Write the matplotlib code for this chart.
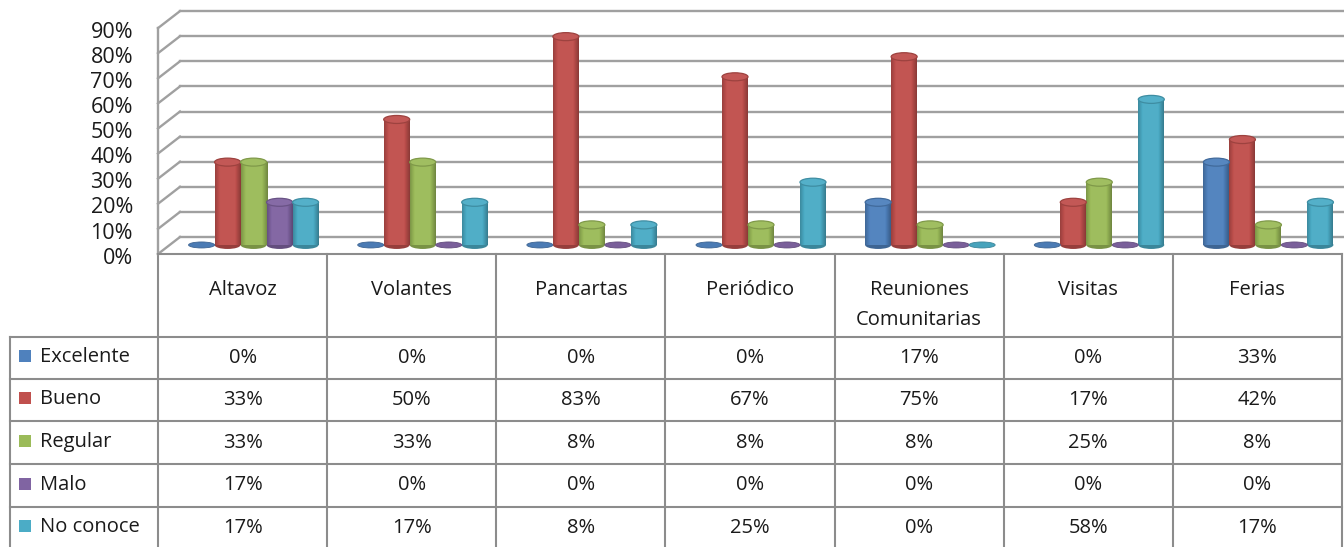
import numpy as np
import matplotlib.pyplot as plt
import matplotlib.transforms as mtransforms
from matplotlib.patches import Ellipse, Rectangle
from matplotlib.colors import to_rgb

plt.rcParams['font.family'] = ['Open Sans', 'DejaVu Sans']

# datos (porcentajes por medio de difusión)
categorias = ['Altavoz', 'Volantes', 'Pancartas', 'Periódico',
              'Reuniones\nComunitarias', 'Visitas', 'Ferias']
series = ['Excelente', 'Bueno', 'Regular', 'Malo', 'No conoce']
excelente = [0, 0, 0, 0, 17, 0, 33]
bueno = [33, 50, 83, 67, 75, 17, 42]
regular = [33, 33, 8, 8, 8, 25, 8]
malo = [17, 0, 0, 0, 0, 0, 0]
no_conoce = [17, 17, 8, 25, 0, 58, 17]
colores = ['#4F81BD', '#C0504D', '#9BBB59', '#8064A2', '#4BACC6']
ticks_y = [0, 10, 20, 30, 40, 50, 60, 70, 80, 90]

valores = [excelente, bueno, regular, malo, no_conoce]

W, H = 1344, 547
IZQ, DER = 158, 1342       # borde de la tabla / del grafico (px)
PISO = 254                 # linea del 0% (px desde arriba)
PX = 2.51                  # px por cada 1%
COL = (DER - IZQ) / 7.0
TEXTO = '#1a1a1a'
GRIS = '#a0a0a0'

fig = plt.figure(figsize=(W / 100, H / 100), dpi=100)

# ---- tabla de datos (coordenadas en pixeles) ----
tab = fig.add_axes([0, 0, 1, 1])
tab.set_xlim(0, W)
tab.set_ylim(H, 0)
tab.axis('off')

filas = [337, 379, 421, 464, 507, 549]
for k in range(8):
    x = IZQ + COL * k
    tab.plot([x, x], [PISO, H], color='#8c8c8c', lw=1.5)
tab.plot([10, 10], [filas[0], H], color='#8c8c8c', lw=1.5)
for y in filas[:-1]:
    tab.plot([10, DER], [y, y], color='#8c8c8c', lw=1.5)

for i, cat in enumerate(categorias):
    cx = IZQ + COL * (i + 0.5)
    for j, linea in enumerate(cat.split('\n')):
        tab.text(cx, 290 + 30 * j, linea, ha='center', va='center',
                 fontsize=14.5, color=TEXTO)

for s, (nombre, vals, c) in enumerate(zip(series, valores, colores)):
    cy = (filas[s] + filas[s + 1]) / 2.0
    tab.add_patch(Rectangle((19, cy - 8), 12, 12, facecolor=c, edgecolor='none'))
    tab.text(40, cy - 1, nombre, ha='left', va='center', fontsize=14.5, color=TEXTO)
    for i, v in enumerate(vals):
        tab.text(IZQ + COL * (i + 0.5), cy, f'{v}%', ha='center', va='center',
                 fontsize=14.5, color=TEXTO)

# ---- grafico de columnas con efecto 3D ----
ax = fig.add_axes([IZQ / W, (H - PISO) / H, (DER - IZQ) / W, PISO / H])
ax.patch.set_alpha(0)
for sp in ax.spines.values():
    sp.set_visible(False)

dx = 22 / COL
dy = 17 / PX
for v in ticks_y:
    ax.plot([dx, 7 + dx + 1], [v + dy, v + dy], color=GRIS, lw=1.7, clip_on=False, zorder=1)
    ax.plot([0, dx], [v, v + dy], color=GRIS, lw=1.7, clip_on=False, zorder=1)
ax.plot([0, 0], [0, 90], color=GRIS, lw=1.7, clip_on=False, zorder=1)
ax.plot([0, 7], [0, 0], color='#8c8c8c', lw=1.5, clip_on=False, zorder=1)

ancho = 26 / COL
base = 3.6
alto_elipse = 8 / PX


def sombra(c, f):
    c = np.array(to_rgb(c))
    if f >= 1:
        return np.clip(c + (1 - c) * (f - 1) * 1.6, 0, 1)
    return np.clip(c * f, 0, 1)


# sombreado horizontal del cilindro: bordes oscuros, centro plano
t = np.linspace(0, 1, 60)
perfil = np.ones_like(t) * 1.02
perfil = np.where(t < 0.18, 0.80 + 0.22 * t / 0.18, perfil)
perfil = np.where(t > 0.78, 1.02 - 0.30 * (t - 0.78) / 0.22, perfil)

for k, (vals, c) in enumerate(zip(valores, colores)):
    xs = np.arange(7) + 0.5 + 0.065 + (k - 2) * ancho
    barras = ax.bar(xs, vals, width=ancho, bottom=base, color=c, linewidth=0, zorder=3)
    grad = np.array([[sombra(c, f) for f in perfil]])
    for x, v, b in zip(xs, vals, barras):
        if v > 0:
            ax.add_patch(Ellipse((x, base), ancho, alto_elipse,
                                 facecolor=sombra(c, 0.78), edgecolor='none', zorder=2.5))
            im = ax.imshow(grad, extent=[x - ancho / 2, x + ancho / 2, base, base + v],
                           aspect='auto', interpolation='bilinear', zorder=3.2)
            im.set_clip_path(b)
            ax.add_patch(Ellipse((x, base + v), ancho, alto_elipse,
                                 facecolor=sombra(c, 1.03), edgecolor=sombra(c, 0.82),
                                 lw=0.9, zorder=4))
        else:
            ax.add_patch(Ellipse((x, base), ancho, alto_elipse * 0.75,
                                 facecolor=sombra(c, 0.95), edgecolor=sombra(c, 0.78),
                                 lw=0.6, zorder=4))

ax.set_xlim(0, 7)
ax.set_ylim(0, PISO / PX)
ax.set_xticks([])
ax.set_yticks(ticks_y)
ax.set_yticklabels([f'{v}%' for v in ticks_y], fontsize=15.5, color=TEXTO)
ax.tick_params(axis='y', length=0, pad=18)
bajar = mtransforms.ScaledTranslation(0, -3 / 72, fig.dpi_scale_trans)
for lbl in ax.get_yticklabels():
    lbl.set_va('center')
    lbl.set_transform(lbl.get_transform() + bajar)

fig.savefig('out.png', dpi=100)
